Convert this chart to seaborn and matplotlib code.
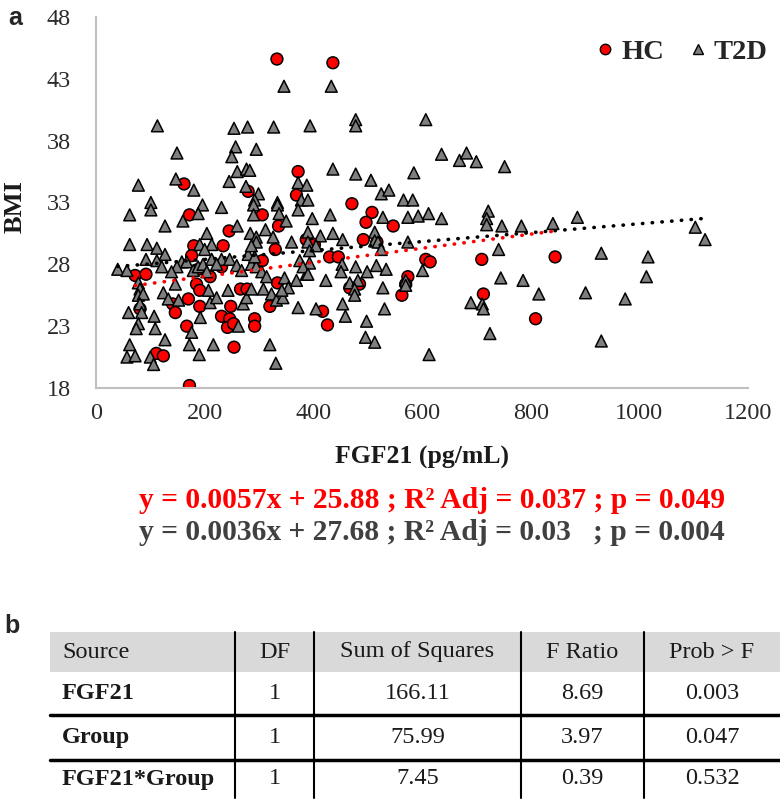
import matplotlib
matplotlib.use('Agg')
import matplotlib.pyplot as plt
from matplotlib.lines import Line2D
from matplotlib.patches import Rectangle
import numpy as np
import pandas as pd
import seaborn as sns

# ---- data ----
hc_fgf21 = [333, 436, 372, 162, 280, 369, 471, 172, 306, 508, 497, 547, 245, 336, 387,
            180, 234, 176, 330, 306, 402, 492, 517, 430, 446, 607, 615, 710, 845, 72,
            92, 188, 231, 210, 185, 191, 170, 141, 146, 191, 81, 111, 124, 172, 167,
            231, 246, 242, 253, 248, 292, 292, 254, 266, 278, 320, 334, 467, 485, 574,
            570, 563, 713, 417, 426, 809]
hc_bmi = [44.6, 44.3, 35.5, 34.5, 33.9, 33.6, 32.9, 32.0, 32.0, 32.2, 31.4, 31.1, 30.7, 31.1, 30.0,
          29.5, 29.5, 28.7, 29.2, 28.3, 29.6, 30.0, 29.8, 28.6, 28.6, 28.4, 28.2, 28.4, 28.6, 27.1,
          27.2, 27.6, 27.8, 27.0, 26.4, 25.9, 25.2, 24.8, 24.1, 24.6, 24.4, 20.8, 20.6, 18.2, 23.0,
          23.8, 23.6, 22.9, 23.2, 24.6, 23.6, 23.0, 21.3, 26.0, 26.0, 24.6, 26.5, 26.1, 26.4, 27.0,
          26.4, 25.5, 25.6, 24.2, 23.1, 23.6]

t2d_fgf21 = [346, 433, 113, 254, 279, 327, 394, 478, 478, 607, 149, 257, 250, 295, 260,
             277, 283, 78, 147, 180, 245, 276, 299, 292, 334, 372, 388, 378, 390, 101,
             196, 231, 636, 669, 682, 700, 752, 436, 478, 506, 585, 525, 539, 566, 583,
             101, 62, 188, 160, 127, 260, 290, 290, 334, 337, 372, 350, 312, 326, 284,
             295, 295, 390, 360, 62, 94, 112, 127, 92, 204, 213, 191, 200, 40, 57,
             78, 81, 78, 112, 121, 158, 149, 139, 167, 179, 188, 197, 204, 213, 231,
             222, 246, 259, 268, 280, 286, 295, 305, 314, 146, 124, 133, 152, 87, 81,
             84, 60, 78, 107, 109, 74, 127, 62, 57, 72, 100, 106, 172, 176, 190,
             216, 192, 262, 210, 222, 207, 243, 271, 277, 286, 308, 323, 332, 344, 372,
             320, 331, 347, 369, 387, 354, 342, 375, 393, 381, 286, 292,
             431, 398, 528, 574, 593, 612, 636, 722, 719, 719, 747, 783, 413, 436, 454,
             390, 393, 405, 513, 513, 519, 525, 574, 453, 451, 478, 499, 516, 534, 601,
             741, 390, 423, 467, 482, 476, 476, 528, 570, 570, 745, 786, 690, 711, 713,
             405, 454, 459, 531, 498, 496, 513, 725, 613,
             841, 886, 1103, 1121, 930, 1016, 1013, 815, 901, 974, 930]
t2d_bmi = [42.4, 42.4, 39.2, 39.0, 39.1, 39.1, 39.2, 39.7, 39.2, 39.7, 37.0, 37.5, 36.7, 37.3, 35.5,
           35.7, 35.6, 34.4, 34.9, 34.0, 34.7, 34.3, 33.7, 33.2, 33.0, 34.6, 34.4, 33.2, 33.2, 33.0,
           32.8, 32.6, 36.9, 36.4, 37.0, 36.3, 35.9, 35.7, 35.3, 34.8, 35.4, 33.7, 34.0, 33.2, 33.2,
           32.4, 32.0, 32.1, 31.5, 31.1, 31.1, 32.8, 32.0, 32.8, 32.1, 32.4, 31.5, 30.8, 30.2, 30.5,
           30.2, 29.8, 30.6, 29.8, 29.6, 29.6, 29.3, 28.8, 28.4, 30.5, 29.6, 29.6, 29.2, 27.6, 27.5,
           26.5, 26.0, 25.5, 28.3, 27.8, 28.2, 27.8, 27.4, 28.2, 27.5, 27.8, 28.0, 27.4, 28.4, 28.4,
           28.0, 28.4, 27.9, 27.5, 28.8, 28.0, 27.8, 27.4, 27.0, 26.4, 25.7, 25.2, 25.1, 25.6, 24.8,
           24.1, 24.1, 23.2, 23.8, 22.8, 22.8, 21.9, 21.5, 20.5, 20.6, 20.5, 19.9, 21.5, 22.5, 20.7,
           21.5, 23.7, 23.0, 24.9, 25.3, 25.9, 25.9, 24.8, 25.3, 26.0, 26.0, 25.6, 25.1, 25.3, 24.5,
           21.5, 20.0, 26.9, 26.7, 27.2, 26.1, 25.9, 28.3, 28.1, 27.8, 29.5, 28.6,
           32.0, 31.7, 31.8, 31.8, 31.9, 32.1, 31.7, 32.3, 31.7, 31.2, 31.1, 31.1, 30.3, 30.5, 30.0,
           29.8, 29.1, 29.5, 30.6, 29.9, 29.8, 29.2, 29.8, 28.0, 27.4, 27.8, 27.4, 27.9, 27.6, 27.5,
           29.2, 27.2, 26.7, 26.5, 26.7, 26.0, 25.5, 26.1, 26.7, 26.3, 26.9, 26.7, 24.9, 24.8, 24.4,
           24.4, 24.8, 23.8, 24.4, 23.4, 22.1, 21.7, 22.4, 20.7,
           31.3, 31.8, 31.0, 30.0, 28.9, 28.6, 27.0, 25.6, 25.7, 25.2, 21.8]

# trend lines (slope, intercept) as printed on the figure
hc_fit = (0.0057, 25.88)
t2d_fit = (0.0036, 27.68)
eq_hc = 'y = 0.0057x + 25.88 ; R\u00b2 Adj = 0.037 ; p = 0.049'
eq_t2d = 'y = 0.0036x + 27.68 ; R\u00b2 Adj = 0.03   ; p = 0.004'

y_ticks = [18, 23, 28, 33, 38, 43, 48]
x_ticks = [0, 200, 400, 600, 800, 1000, 1200]

# ANOVA table
tab_header = ['Source', 'DF', 'Sum of Squares', 'F Ratio', 'Prob > F']
tab_source = ['FGF21', 'Group', 'FGF21*Group']
tab_df = ['1', '1', '1']
tab_ss = ['166.11', '75.99', '7.45']
tab_f = ['8.69', '3.97', '0.39']
tab_p = ['0.003', '0.047', '0.532']

sns.set_style('white')
plt.rcParams['font.family'] = ['Liberation Serif', 'DejaVu Sans']

W, H = 780, 801
fig = plt.figure(figsize=(W / 100, H / 100), dpi=100)
ax = fig.add_axes([96 / W, 1 - 388 / H, 652 / W, 371 / H])

df = pd.DataFrame({
    'FGF21': hc_fgf21 + t2d_fgf21,
    'BMI': hc_bmi + t2d_bmi,
    'Group': ['HC'] * len(hc_fgf21) + ['T2D'] * len(t2d_fgf21),
})
sns.scatterplot(data=df, x='FGF21', y='BMI', hue='Group', style='Group',
                markers={'HC': 'o', 'T2D': '^'},
                palette={'HC': '#ff0000', 'T2D': '#7f7f7f'},
                edgecolor='black', linewidth=1.1, s=72, legend=False, ax=ax, zorder=2)

# dotted linear trend lines
for xs, fit, col in [(hc_fgf21, hc_fit, '#ff0000'), (t2d_fgf21, t2d_fit, '#000000')]:
    xx = np.array([min(xs), max(xs)])
    ax.plot(xx, fit[0] * xx + fit[1], color=col, lw=2.6,
            linestyle=(0, (0.1, 2.6)), dash_capstyle='round', zorder=3)

ax.set_xlim(0, 1200)
ax.set_ylim(18, 48)
ax.set_xticks(x_ticks)
ax.set_yticks(y_ticks)
ax.tick_params(axis='both', length=0, labelsize=17.5, colors='#2b2b2b')
ax.tick_params(axis='y', pad=18)
ax.tick_params(axis='x', pad=11)
for s in ['top', 'right']:
    ax.spines[s].set_visible(False)
for s in ['left', 'bottom']:
    ax.spines[s].set_color('#bfbfbf')
    ax.spines[s].set_linewidth(1.5)

ax.set_xlabel('FGF21 (pg/mL)', fontsize=18.5, fontweight='bold', color='#1a1a1a')
ax.set_ylabel('BMI', fontsize=19, fontweight='bold', color='#1a1a1a')
ax.xaxis.set_label_coords(0.5, (388 - 446) / 371)
ax.yaxis.set_label_coords((27 - 96) / 652, 0.49)

handles = [Line2D([], [], marker='o', ls='', markerfacecolor='#ff0000', markeredgecolor='black',
                  markersize=7.5, markeredgewidth=1.0, label='HC'),
           Line2D([], [], marker='^', ls='', markerfacecolor='#7f7f7f', markeredgecolor='black',
                  markersize=7.5, markeredgewidth=1.0, label='T2D')]
leg = ax.legend(handles=handles, ncol=2, loc='center right', bbox_to_anchor=(779 / W, 1 - 52 / H),
                bbox_transform=fig.transFigure, frameon=False, handlelength=0.6,
                handletextpad=0.25, columnspacing=0.9, borderaxespad=0,
                prop={'family': 'Liberation Serif', 'weight': 'bold', 'size': 20.5})

# equations under the plot
fig.text(139 / W, 1 - 500 / H, eq_hc, color='#ff0000', fontsize=21.3, fontweight='bold',
         ha='left', va='center')
fig.text(139 / W, 1 - 533 / H, eq_t2d, color='#404040', fontsize=21.3, fontweight='bold',
         ha='left', va='center')

# panel letters
fig.text(15 / W, 1 - 18 / H, 'a', family='Liberation Sans', fontweight='bold', fontsize=18,
         ha='center', va='center')
fig.text(12 / W, 1 - 626 / H, 'b', family='Liberation Sans', fontweight='bold', fontsize=18,
         ha='center', va='center')

# ---- panel b: ANOVA table drawn in pixel coordinates ----
tax = fig.add_axes([0, 0, 1, 1], zorder=-1)
tax.set_xlim(0, W)
tax.set_ylim(H, 0)
tax.axis('off')
col_edges = [50, 235, 314, 521, 644, 780]
row_edges = [632, 672, 715, 760, 798]
tax.add_patch(Rectangle((col_edges[0], row_edges[0]), col_edges[-1] - col_edges[0],
                        row_edges[1] - row_edges[0], color='#d9d9d9', lw=0))
for xv in col_edges[1:-1]:
    tax.plot([xv, xv], [row_edges[0], row_edges[-1]], color='black', lw=1.5)
for yv in row_edges[2:4]:
    tax.plot([col_edges[0], col_edges[-1]], [yv, yv], color='black', lw=2.5)

cols = [tab_source, tab_df, tab_ss, tab_f, tab_p]
fs_tab = 17.5
for ci, head in enumerate(tab_header):
    yc = (row_edges[0] + row_edges[1]) / 2
    if ci == 0:
        tax.text(62, yc, head, fontsize=fs_tab, ha='left', va='center', color='#1a1a1a')
    else:
        tax.text((col_edges[ci] + col_edges[ci + 1]) / 2, yc, head, fontsize=fs_tab,
                 ha='center', va='center', color='#1a1a1a')
    for ri, val in enumerate(cols[ci]):
        yc = (row_edges[ri + 1] + row_edges[ri + 2]) / 2
        if ci == 0:
            tax.text(62, yc, val, fontsize=fs_tab, fontweight='bold',
                     ha='left', va='center', color='#1a1a1a')
        else:
            tax.text((col_edges[ci] + col_edges[ci + 1]) / 2, yc, val, fontsize=fs_tab,
                     ha='center', va='center', color='#1a1a1a')

fig.savefig('out.png', dpi=100)
